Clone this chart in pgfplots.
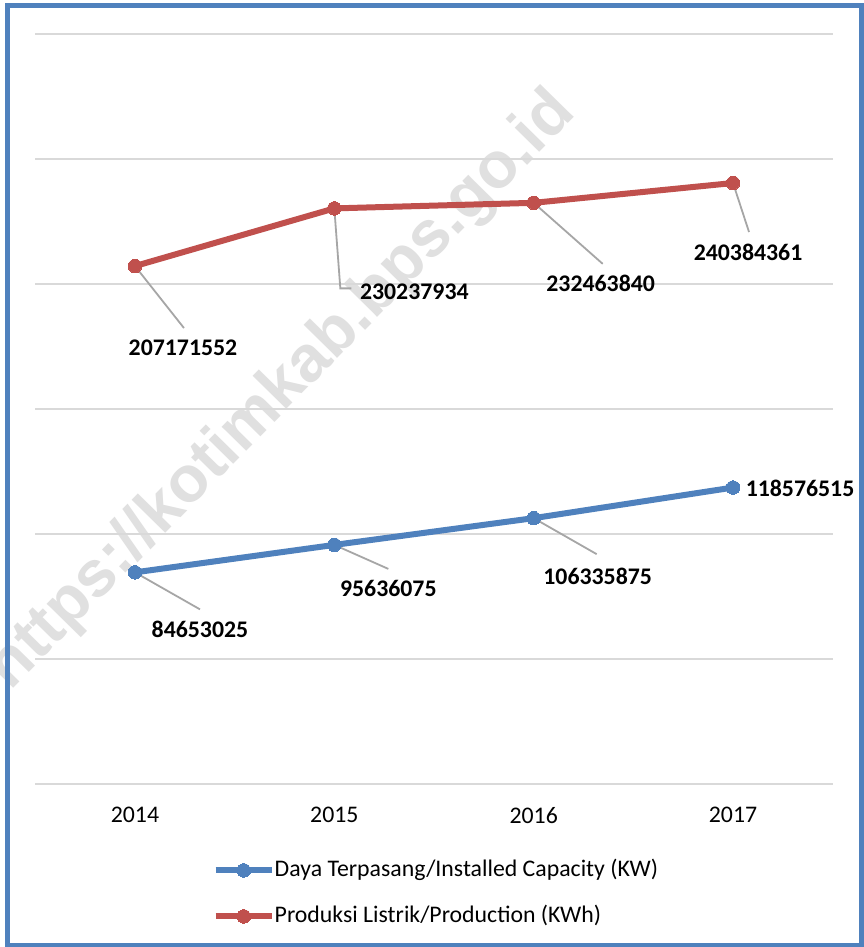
\documentclass[border=0pt]{standalone}
\usepackage{pgfplots}
\pgfplotsset{compat=1.18}
\usepackage{fontspec}
\setmainfont{Carlito}
\newfontfamily\wmfont{Liberation Sans}
\definecolor{sblue}{RGB}{79,129,189}
\definecolor{sred}{RGB}{192,80,77}
\definecolor{gridc}{RGB}{217,217,217}
\definecolor{leadc}{RGB}{166,166,166}
\definecolor{wmc}{RGB}{224,224,224}
\newcommand{\fs}{\fontsize{11.9pt}{14pt}\selectfont}
\begin{document}
\begin{tikzpicture}
\useasboundingbox (0,0) rectangle (431.5pt,473.5pt);
\fill[white] (0,0) rectangle (431.5pt,473.5pt);
\node[rotate=45.5, text=wmc, font=\wmfont\bfseries\fontsize{32.5pt}{40pt}\selectfont] at (141pt,278pt) {https://kotimkab.bps.go.id};
\begin{axis}[
  scale only axis, width=398.7pt, height=375pt,
  at={(17.65pt,81.5pt)}, anchor=south west,
  xmin=-0.5, xmax=3.5, ymin=0, ymax=300000000,
  xtick={0,1,2,3}, xticklabels={2014,2015,2016,2017},
  ytick={0,50000000,100000000,150000000,200000000,250000000,300000000},
  yticklabels={}, scaled y ticks=false,
  ymajorgrids, grid style={gridc, line width=1pt},
  axis line style={draw=none},
  major tick length=0pt,
  xticklabel style={font=\fs, yshift=-8pt},
  clip=false,
  legend cell align=left,
  legend style={at={(0.222,-0.0987)}, anchor=north west, draw=none, fill=none,
    inner sep=0pt, font=\fs, row sep=11pt,
    nodes={inner sep=0pt, text height=9pt, text depth=3pt}},
  legend image code/.code={\draw[#1, mark repeat=2, mark phase=2] plot coordinates {(0pt,0pt) (14pt,0pt) (28pt,0pt)};},
]
\addplot[sblue, line width=3pt, mark=*, mark size=3.4pt, mark options={fill=sblue, draw=sblue, line width=0pt}]
  coordinates {(0,84653025) (1,95636075) (2,106335875) (3,118576515)};
\addlegendentry{Daya Terpasang/Installed Capacity (KW)}
\addplot[sred, line width=3pt, mark=*, mark size=3.4pt, mark options={fill=sred, draw=sred, line width=0pt}]
  coordinates {(0,207171552) (1,230237934) (2,232463840) (3,240384361)};
\addlegendentry{Produksi Listrik/Production (KWh)}
% leader lines and data labels
\draw[leadc, line width=0.9pt] (axis cs:0,207171552) -- ++(24.5pt,-31pt);
\node[font=\fs\bfseries, xshift=24pt, yshift=-41pt] at (axis cs:0,207171552) {207171552};
\draw[leadc, line width=0.9pt] (axis cs:1,230237934) -- ++(3pt,-40pt) -- ++(5.5pt,0pt);
\node[font=\fs\bfseries, xshift=40pt, yshift=-41.5pt] at (axis cs:1,230237934) {230237934};
\draw[leadc, line width=0.9pt] (axis cs:2,232463840) -- ++(34.5pt,-30.5pt);
\node[font=\fs\bfseries, xshift=33.5pt, yshift=-40.5pt] at (axis cs:2,232463840) {232463840};
\draw[leadc, line width=0.9pt] (axis cs:3,240384361) -- ++(8pt,-24.5pt);
\node[font=\fs\bfseries, xshift=7.5pt, yshift=-34.5pt] at (axis cs:3,240384361) {240384361};
\draw[leadc, line width=0.9pt] (axis cs:0,84653025) -- ++(32.5pt,-18.5pt);
\node[font=\fs\bfseries, xshift=32.5pt, yshift=-28.5pt] at (axis cs:0,84653025) {84653025};
\draw[leadc, line width=0.9pt] (axis cs:1,95636075) -- ++(27pt,-12pt);
\node[font=\fs\bfseries, xshift=27pt, yshift=-22pt] at (axis cs:1,95636075) {95636075};
\draw[leadc, line width=0.9pt] (axis cs:2,106335875) -- ++(31.5pt,-18pt);
\node[font=\fs\bfseries, xshift=32pt, yshift=-29pt] at (axis cs:2,106335875) {106335875};
\node[font=\fs\bfseries, xshift=33.5pt, yshift=-0.5pt] at (axis cs:3,118576515) {118576515};
\end{axis}
\draw[sblue, line width=2.5pt] (3.75pt,0.75pt) rectangle (430.5pt,470.75pt);
\end{tikzpicture}
\end{document}
